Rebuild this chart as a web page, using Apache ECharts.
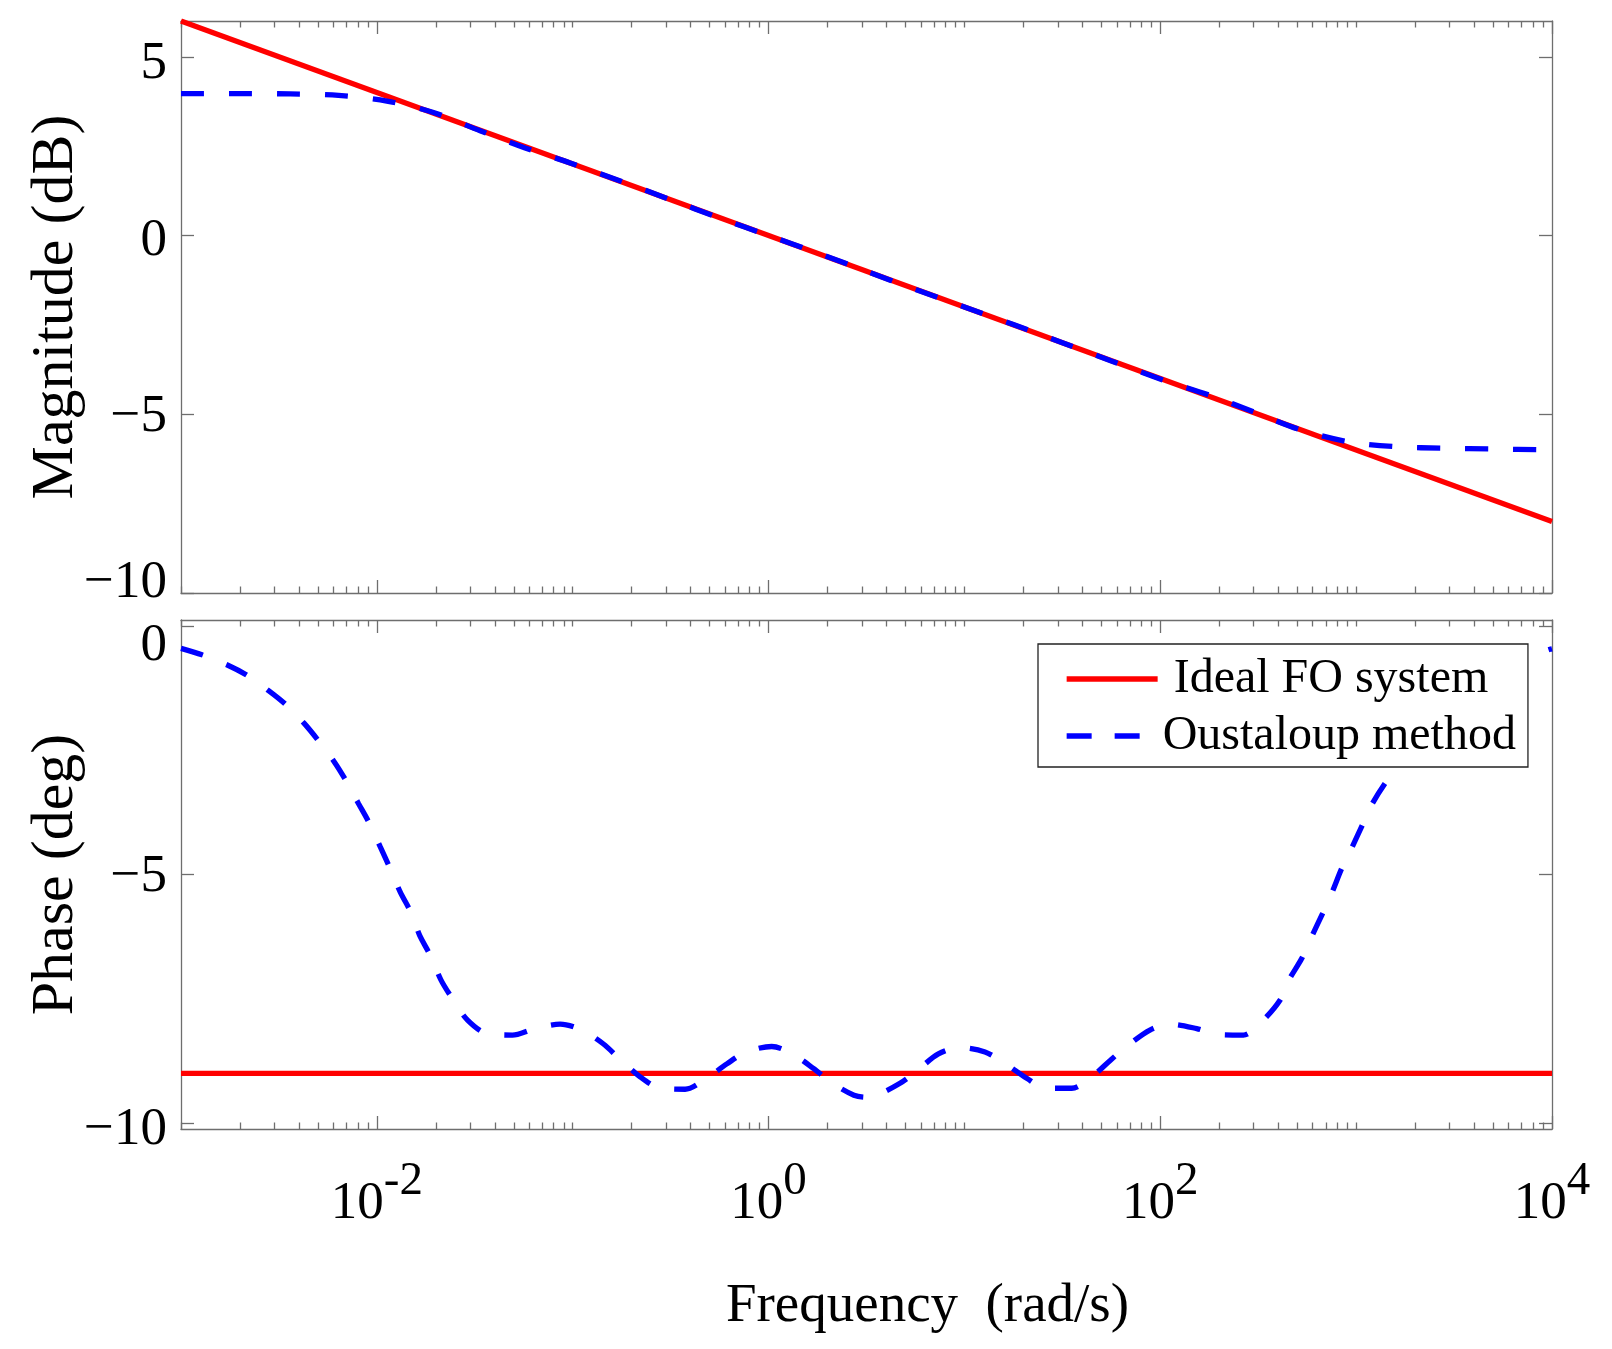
<!DOCTYPE html>
<html>
<head>
<meta charset="utf-8">
<title>Bode diagram</title>
<script src="https://cdn.jsdelivr.net/npm/echarts@6/dist/echarts.min.js"></script>
<style>
  html, body { margin: 0; padding: 0; background: #fff; }
  #main { width: 1612px; height: 1349px; }
</style>
</head>
<body>
<div id="main"></div>
<script>
// frequency given as log10(w)
var magFreqExp = [-3.0, -2.936, -2.689, -2.443, -2.196, -1.949, -1.711, -1.473, -1.243, -1.013,
  -0.75, -0.5, -0.25, 0, 0.25, 0.5, 0.75, 1.0, 1.25, 1.5, 1.75,
  2.024, 2.254, 2.484, 2.713, 2.96, 3.207, 3.453, 3.7, 3.947, 4.0];
var magOustaloup = [3.97, 3.97, 3.97, 3.96, 3.92, 3.76, 3.44, 2.93, 2.45, 2.03,
  1.51, 1.0, 0.49, 0.0, -0.49, -1.0, -1.51, -2.0, -2.49, -3.0, -3.51,
  -4.06, -4.47, -4.95, -5.43, -5.77, -5.91, -5.95, -5.97, -5.99, -5.99];

var phaseFreqExp = [-3.0, -2.893, -2.766, -2.664, -2.553, -2.468, -2.371, -2.298, -2.218, -2.158,
  -2.094, -2.038, -1.983, -1.932, -1.881, -1.825, -1.782, -1.724, -1.673, -1.609,
  -1.537, -1.438, -1.308, -1.201, -1.064, -0.954, -0.843, -0.758, -0.656, -0.567,
  -0.426, -0.324, -0.213, -0.12, 0.016, 0.118, 0.229, 0.323, 0.436, 0.498,
  0.552, 0.671, 0.757, 0.867, 0.978, 1.105, 1.207, 1.318, 1.415, 1.548,
  1.65, 1.747, 1.828, 1.947, 2.049, 2.186, 2.296, 2.424, 2.518, 2.611,
  2.657, 2.722, 2.773, 2.829, 2.878, 2.926, 2.977, 3.036, 3.079, 3.147,
  3.218, 3.298, 3.371, 3.468, 3.553, 3.664, 3.766, 3.904, 3.99, 4.0];
var phaseOustaloup = [-0.45, -0.58, -0.78, -0.99, -1.30, -1.57, -1.96, -2.31, -2.73, -3.11,
  -3.57, -3.97, -4.44, -4.88, -5.35, -5.77, -6.22, -6.65, -7.12, -7.53,
  -7.93, -8.20, -8.23, -8.11, -8.01, -8.13, -8.41, -8.72, -9.07, -9.28,
  -9.32, -9.12, -8.81, -8.58, -8.46, -8.60, -8.90, -9.19, -9.44, -9.48,
  -9.44, -9.20, -8.95, -8.61, -8.48, -8.57, -8.80, -9.10, -9.30, -9.30,
  -9.07, -8.73, -8.46, -8.13, -8.01, -8.10, -8.22, -8.23, -7.96, -7.53,
  -7.12, -6.69, -6.25, -5.78, -5.35, -4.88, -4.47, -3.97, -3.60, -3.17,
  -2.80, -2.31, -1.96, -1.57, -1.30, -0.99, -0.78, -0.58, -0.47, -0.46];

var idealFreq = [0.001, 10000];
var idealMag = [6, -8];
var idealPhase = [-9, -9];

var xLabelValues = [0.01, 1, 100, 10000];
var magTickValues = [-10, -5, 0, 5];
var phaseTickValues = [-10, -5, 0];

var FONT = 'Liberation Serif';
var GRAY = '#6e6e6e';

// label nudges (px down) matching how the tick labels sit in the figure
var magLabelShift = {'5': 7, '0': 6, '-5': 3, '-10': -10};
var phaseLabelShift = {'0': 20, '-5': 3, '-10': 7};

var minorTicks = [];
for (var d = -3; d <= 3; d++) {
  for (var k = 1; k <= 9; k++) {
    if (k === 1 && (d % 2 === 0)) continue;
    minorTicks.push(k * Math.pow(10, d));
  }
}

function pairs(xs, ys, expo) {
  return xs.map(function (x, i) {
    return [expo ? Math.pow(10, x) : x, ys[i]];
  });
}

function minusSign(v) {
  return v < 0 ? '\u2212' + Math.abs(v) : String(v);
}

var myChart = echarts.init(document.getElementById('main'));

var grids = [
  {left: 181, top: 21, width: 1371, height: 572},
  {left: 181, top: 620, width: 1371, height: 509}
];

function makeXAxes(gi, withLabels) {
  var base = {
    gridIndex: gi,
    type: 'log',
    logBase: 10,
    min: 0.001,
    max: 10000,
    splitLine: {show: false},
    axisLine: {show: true, onZero: false, lineStyle: {color: GRAY, width: 1.3}},
    axisLabel: {show: false}
  };
  var list = [];
  ['bottom', 'top'].forEach(function (pos) {
    var major = echarts.util.merge({}, base, true);
    major.position = pos;
    major.axisTick = {show: true, inside: true, length: 13, customValues: xLabelValues,
      lineStyle: {color: GRAY, width: 1.3}};
    if (pos === 'bottom' && withLabels) {
      major.axisLabel = {
        show: true,
        customValues: xLabelValues,
        margin: 39,
        formatter: function (val) {
          return '{b|10}{s|' + Math.round(Math.log10(val)) + '}';
        },
        rich: {
          b: {fontFamily: FONT, fontSize: 53, lineHeight: 53, color: '#000', padding: [20, 0, 0, 0]},
          s: {fontFamily: FONT, fontSize: 47, lineHeight: 47, color: '#000', padding: [0, 0, 26, 0]}
        }
      };
      major.name = 'Frequency  (rad/s)';
      major.nameLocation = 'middle';
      major.nameGap = 150;
      major.nameMoveOverlap = false;
      major.nameTextStyle = {fontFamily: FONT, fontSize: 55, color: '#000', padding: [0, 0, 0, 122]};
    }
    list.push(major);
    var minor = echarts.util.merge({}, base, true);
    minor.position = pos;
    minor.axisLine = {show: false, onZero: false};
    minor.axisTick = {show: true, inside: true, length: 6.5, customValues: minorTicks,
      lineStyle: {color: GRAY, width: 1.3}};
    list.push(minor);
  });
  return list;
}

function makeYAxes(gi, min, max, ticks, shifts, name) {
  var tickStyle = {show: true, inside: true, length: 13, customValues: ticks,
    lineStyle: {color: GRAY, width: 1.3}};
  var rich = {};
  ticks.forEach(function (t, i) {
    var s = shifts[String(t)] || 0;
    rich['t' + i] = {
      fontFamily: FONT, fontSize: 53, lineHeight: 53, color: '#000',
      padding: s >= 0 ? [2 * s, 0, 0, 0] : [0, 0, -2 * s, 0]
    };
  });
  return [{
    gridIndex: gi,
    type: 'value',
    position: 'left',
    min: min,
    max: max,
    splitLine: {show: false},
    axisLine: {show: true, onZero: false, lineStyle: {color: GRAY, width: 1.3}},
    axisTick: tickStyle,
    axisLabel: {
      customValues: ticks,
      margin: 14,
      formatter: function (v) {
        return '{t' + ticks.indexOf(v) + '|' + minusSign(v) + '}';
      },
      rich: rich
    },
    name: name,
    nameLocation: 'middle',
    nameGap: 95,
    nameMoveOverlap: false,
    nameTextStyle: {fontFamily: FONT, fontSize: 60, color: '#000'}
  }, {
    gridIndex: gi,
    type: 'value',
    position: 'right',
    min: min,
    max: max,
    splitLine: {show: false},
    axisLine: {show: true, onZero: false, lineStyle: {color: GRAY, width: 1.3}},
    axisTick: tickStyle,
    axisLabel: {show: false}
  }];
}

var redLine = {color: '#ff0000', width: 5.3};
var blueLine = {color: '#0000ff', width: 5.3, type: [23, 25], cap: 'butt'};

myChart.setOption({
  backgroundColor: '#ffffff',
  animation: false,
  grid: grids,
  xAxis: makeXAxes(0, false).concat(makeXAxes(1, true)),
  yAxis: makeYAxes(0, -10, 6, magTickValues, magLabelShift, 'Magnitude (dB)')
    .concat(makeYAxes(1, -10.12, 0.12, phaseTickValues, phaseLabelShift, 'Phase (deg)')),
  legend: {
    orient: 'vertical',
    left: 1038,
    top: 644,
    padding: [10, 12, 6, 26],
    itemWidth: 91,
    itemHeight: 14,
    itemGap: 7,
    backgroundColor: '#ffffff',
    borderColor: '#222222',
    borderWidth: 1.3,
    borderRadius: 0,
    itemStyle: {opacity: 0, borderWidth: 0},
    lineStyle: {width: 5.3, cap: 'butt'},
    textStyle: {fontFamily: FONT, fontSize: 48, lineHeight: 50, color: '#000', padding: [0, 0, 0, 0]},
    data: [
      {name: 'Ideal FO system', textStyle: {padding: [0, 0, 0, 11]}},
      {name: 'Oustaloup method', lineStyle: {type: [25, 23], width: 5.3, cap: 'butt'}}
    ]
  },
  series: [{
    name: 'Ideal FO system',
    type: 'line',
    xAxisIndex: 0,
    yAxisIndex: 0,
    symbol: 'none',
    lineStyle: redLine,
    itemStyle: {color: '#ff0000'},
    data: pairs(idealFreq, idealMag, false)
  }, {
    name: 'Oustaloup method',
    type: 'line',
    xAxisIndex: 0,
    yAxisIndex: 0,
    symbol: 'none',
    smooth: 0.3,
    lineStyle: blueLine,
    itemStyle: {color: '#0000ff'},
    data: pairs(magFreqExp, magOustaloup, true)
  }, {
    name: 'Ideal FO system',
    type: 'line',
    xAxisIndex: 4,
    yAxisIndex: 2,
    symbol: 'none',
    lineStyle: redLine,
    itemStyle: {color: '#ff0000'},
    data: pairs(idealFreq, idealPhase, false)
  }, {
    name: 'Oustaloup method',
    type: 'line',
    xAxisIndex: 4,
    yAxisIndex: 2,
    symbol: 'none',
    smooth: 0.3,
    lineStyle: blueLine,
    itemStyle: {color: '#0000ff'},
    data: pairs(phaseFreqExp, phaseOustaloup, true)
  }]
});
</script>
</body>
</html>
